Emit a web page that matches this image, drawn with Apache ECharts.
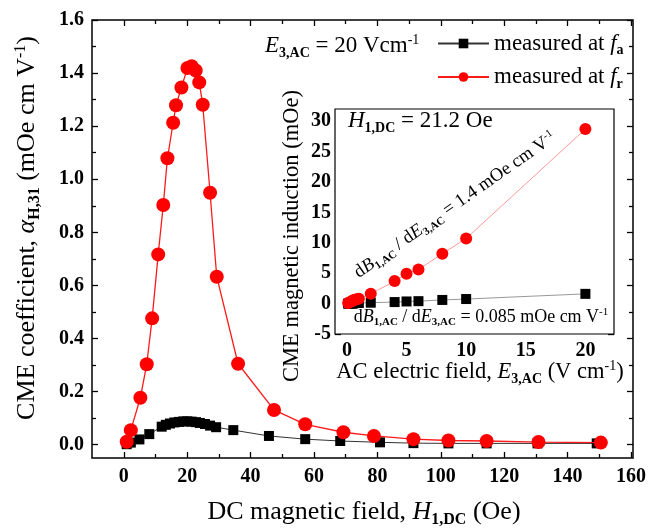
<!DOCTYPE html>
<html><head><meta charset="utf-8">
<script src="https://cdn.jsdelivr.net/npm/echarts@6/dist/echarts.min.js"></script>
<style>html,body{margin:0;padding:0;background:#fff}#c{width:649px;height:529px}</style>
</head><body><div id="c"></div>
<script>
// ---- data: main plot (DC magnetic field in Oe, CME coefficient) ----
const fieldR = [0.9, 2.2, 5.2, 7.2, 8.9, 10.8, 12.4, 13.7, 15.5, 16.4, 18.1, 20.0, 21.3, 22.6, 23.7, 24.8, 27.1, 29.2, 35.9, 47.2, 57.0, 69.0, 78.6, 91.0, 102.0, 114.0, 130.3, 149.9];
const alphaR = [0.011, 0.055, 0.177, 0.303, 0.476, 0.717, 0.903, 1.079, 1.213, 1.279, 1.346, 1.419, 1.426, 1.410, 1.365, 1.281, 0.949, 0.633, 0.305, 0.131, 0.077, 0.047, 0.033, 0.021, 0.016, 0.014, 0.010, 0.008];
const fieldA = [0.9, 2.2, 4.9, 8.0, 11.9, 13.2, 14.5, 15.9, 17.3, 18.7, 20.0, 21.3, 22.7, 23.9, 25.5, 27.1, 29.0, 34.4, 45.6, 57.0, 68.0, 80.5, 91.0, 102.0, 114.0, 130.0, 148.6];
const alphaA = [0.002, 0.008, 0.020, 0.040, 0.068, 0.075, 0.080, 0.084, 0.086, 0.088, 0.088, 0.087, 0.085, 0.082, 0.078, 0.072, 0.066, 0.055, 0.033, 0.021, 0.014, 0.009, 0.006, 0.005, 0.005, 0.005, 0.005];
// ---- data: inset (AC electric field V/cm, magnetic induction mOe) ----
const eField = [0.1, 0.2, 0.4, 0.5, 0.6, 0.8, 1, 2, 4, 5, 6, 8, 10, 20];
const bR = [0.1, 0.2, 0.4, 0.5, 0.6, 0.7, 0.8, 1.6, 3.7, 4.9, 5.6, 8.2, 10.7, 28.7];
const bA = [0.0, 0.0, 0.0, 0.0, 0.1, 0.1, 0.1, 0.15, 0.25, 0.35, 0.4, 0.6, 0.75, 1.6];
// ---- tick labels ----
const mainXTicks = [0, 20, 40, 60, 80, 100, 120, 140, 160];
const mainYTicks = ['0.0', '0.2', '0.4', '0.6', '0.8', '1.0', '1.2', '1.4', '1.6'];
const insetXTicks = [0, 5, 10, 15, 20];
const insetYTicks = [-5, 0, 5, 10, 15, 20, 25, 30];
const seriesNames = ['measured at f_a', 'measured at f_r'];

const F = 'Liberation Serif';
const zip = (a, b) => a.map((v, i) => [v, b[i]]);

function rich(fs) {
  const s = Math.round(fs * 0.6);
  return {
    t: {fontSize: fs, fontFamily: F, fill: '#000', color: '#000'},
    i: {fontSize: fs, fontFamily: F, fontStyle: 'italic', fill: '#000', color: '#000'},
    s: {fontSize: s, fontFamily: F, fontWeight: 'bold', fill: '#000', color: '#000', padding: [Math.round(fs * 0.6), 0, 0, 0]},
    p: {fontSize: s, fontFamily: F, fill: '#000', color: '#000', padding: [0, 0, Math.round(fs * 0.5), 0]}
  };
}
function txt(text, x, y, fs, opts) {
  opts = opts || {};
  return {
    type: 'text', x: x, y: y, rotation: opts.rot || 0, z: 100,
    style: {text: text, rich: rich(fs), align: opts.align || 'center', verticalAlign: 'middle', fill: '#000', font: fs + 'px ' + F}
  };
}

const tickLbl = (fs) => ({fontFamily: F, fontSize: fs, fontWeight: 'bold', color: '#000'});
function decorAxis(grid, pos, min, max, interval, labels, fs, margin, fmt) {
  return {
    gridIndex: grid, type: 'value', position: pos, min: min, max: max, interval: interval,
    axisLine: {show: false}, splitLine: {show: false},
    axisTick: {show: true, inside: true, length: 6, lineStyle: {color: '#000', width: 1.3}},
    minorTick: {show: true, splitNumber: 2, length: 4, lineStyle: {color: '#000', width: 1.3}},
    axisLabel: labels ? Object.assign({show: true, margin: margin, formatter: fmt}, tickLbl(fs)) : {show: false}
  };
}
const hidden = (grid) => ({gridIndex: grid, type: 'value', min: 0, max: 1, show: false});

const chart = echarts.init(document.getElementById('c'), null, {renderer: 'canvas'});
chart.setOption({
  animation: false,
  backgroundColor: '#fff',
  grid: [
    {left: 92, right: 16, top: 20, bottom: 71, show: true, borderColor: '#000', borderWidth: 1.5, backgroundColor: 'transparent'},
    {left: 123.8, right: 16, top: 20, bottom: 71},      // main x ticks
    {left: 92, right: 16, top: 20, bottom: 84.3},       // main y ticks
    {left: 335, right: 35, top: 109, bottom: 195, show: true, borderColor: '#000', borderWidth: 1.2, backgroundColor: '#fff', z: 3},
    {left: 346.9, right: 63.6, top: 109, bottom: 195},  // inset x ticks
    {left: 335, right: 35, top: 121.2, bottom: 195}     // inset y ticks
  ],
  xAxis: [
    {gridIndex: 0, type: 'value', min: -10, max: 160, show: false},
    decorAxis(1, 'bottom', 0, 160, 20, true, 20, 9, v => mainXTicks.includes(v) ? String(v) : ''),
    decorAxis(1, 'top', 0, 160, 20, false),
    hidden(2),
    {gridIndex: 3, type: 'value', min: -1, max: 22.4, show: false},
    decorAxis(4, 'bottom', 0, 20, 5, true, 20, 7, v => insetXTicks.includes(v) ? String(v) : ''),
    decorAxis(4, 'top', 0, 20, 5, false),
    hidden(5)
  ],
  yAxis: [
    {gridIndex: 0, type: 'value', min: -0.05, max: 1.6, show: false},
    hidden(1),
    decorAxis(2, 'left', 0, 1.6, 0.2, true, 20, 8, v => { const s = v.toFixed(1); return mainYTicks.includes(s) ? s : ''; }),
    decorAxis(2, 'right', 0, 1.6, 0.2, false),
    {gridIndex: 3, type: 'value', min: -5, max: 32, show: false},
    hidden(4),
    decorAxis(5, 'left', -5, 30, 5, true, 20, 4, v => insetYTicks.includes(v) ? String(v) : ''),
    decorAxis(5, 'right', -5, 30, 5, false)
  ],
  legend: {
    data: seriesNames, orient: 'vertical', left: 432, top: 27, itemWidth: 51, itemHeight: 12, itemGap: 8,
    selectedMode: false,
    formatter: n => n === seriesNames[0] ? '{t|measured at }{i|f}{s|a}' : '{t|measured at }{i|f}{s|r}',
    textStyle: {fontFamily: F, fontSize: 23, color: '#000', rich: rich(23)}
  },
  series: [
    {name: seriesNames[0], type: 'line', xAxisIndex: 0, yAxisIndex: 0, data: zip(fieldA, alphaA),
      symbol: 'rect', symbolSize: 10, itemStyle: {color: '#000'}, lineStyle: {color: '#333', width: 1}, z: 3},
    {name: seriesNames[1], type: 'line', xAxisIndex: 0, yAxisIndex: 0, data: zip(fieldR, alphaR),
      symbol: 'circle', symbolSize: 14, itemStyle: {color: '#ff0000'}, lineStyle: {color: '#ff1a1a', width: 1.3}, z: 4},
    {name: 'inset_a', type: 'line', xAxisIndex: 4, yAxisIndex: 4, data: zip(eField, bA),
      symbol: 'rect', symbolSize: 10, itemStyle: {color: '#000'}, lineStyle: {color: '#999', width: 1}, z: 5},
    {name: 'inset_r', type: 'line', xAxisIndex: 4, yAxisIndex: 4, data: zip(eField, bR),
      symbol: 'circle', symbolSize: 12, itemStyle: {color: '#ff0000'}, lineStyle: {color: '#ff9a9a', width: 1}, z: 6}
  ],
  graphic: [
    txt('{t|DC magnetic field, }{i|H}{s|1,DC}{t| (Oe)}', 364, 512, 26),
    txt('{t|CME coefficient, }{i|α}{s|H,31}{t| (mOe cm V}{p|-1}{t|)}', 27, 228, 26, {rot: Math.PI / 2}),
    txt('{t|CME magnetic induction (mOe)}', 292, 236, 22.5, {rot: Math.PI / 2}),
    txt('{t|AC electric field, }{i|E}{s|3,AC}{t| (V cm}{p|-1}{t|)}', 480, 372, 22.5),
    txt('{i|E}{s|3,AC}{t| = 20 Vcm}{p|-1}', 265, 46, 23, {align: 'left'}),
    txt('{i|H}{s|1,DC}{t| = 21.2 Oe}', 348, 121, 23, {align: 'left'}),
    txt('{t|d}{i|B}{s|1,AC}{t| / d}{i|E}{s|3,AC}{t| = 1.4 mOe cm V}{p|-1}', 455, 205, 18.5, {rot: 35 * Math.PI / 180}),
    txt('{t|d}{i|B}{s|1,AC}{t| / d}{i|E}{s|3,AC}{t| = 0.085 mOe cm V}{p|-1}', 481, 317, 18)
  ]
});
</script></body></html>
